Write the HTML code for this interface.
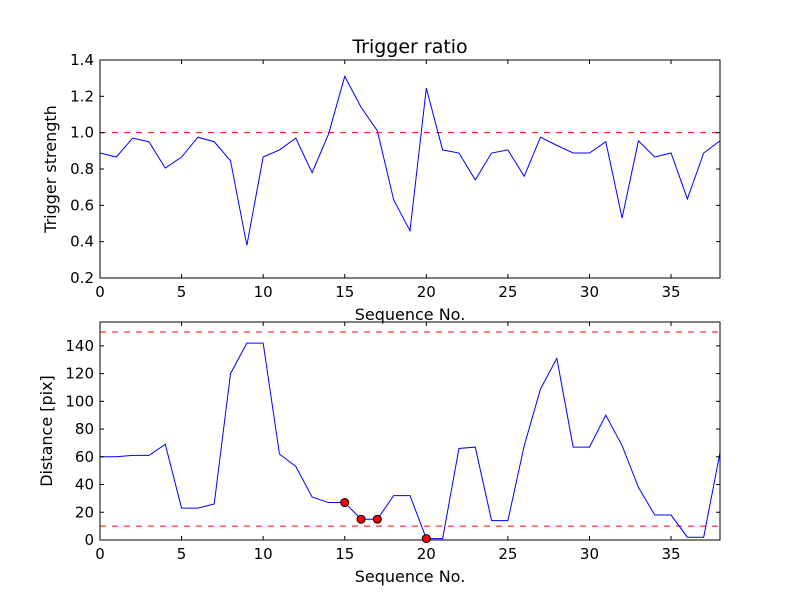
<!DOCTYPE html>
<html><head><meta charset="utf-8"><style>
body{margin:0;background:#fff}
svg text{font-family:"DejaVu Sans","Liberation Sans",sans-serif;fill:#000}
</style></head><body>
<svg id="chart" width="800" height="600" xmlns="http://www.w3.org/2000/svg">
<rect width="800" height="600" fill="#fff"/>
</svg>
<script>
const seq = [0,1,2,3,4,5,6,7,8,9,10,11,12,13,14,15,16,17,18,19,20,21,22,23,24,25,26,27,28,29,30,31,32,33,34,35,36,37,38];
const strength = [0.888,0.866,0.97,0.95,0.805,0.866,0.975,0.95,0.845,0.38,0.866,0.905,0.97,0.78,0.99,1.31,1.14,1.01,0.63,0.46,1.245,0.905,0.888,0.74,0.888,0.905,0.76,0.975,0.93,0.888,0.888,0.95,0.53,0.955,0.866,0.888,0.635,0.888,0.955];
const distance = [60,60,61,61,69,23,23,26,120,142,142,62,53,31,27,27,15,15,32,32,1,1,66,67,14,14,68,109,131,67,67,90,68,38,18,18,2,2,63];
const flagged = [15,16,17,20];
const xTicks = [0,5,10,15,20,25,30,35];
const yTicksTop = [0.2,0.4,0.6,0.8,1.0,1.2,1.4];
const yTicksBot = [0,20,40,60,80,100,120,140];
const thrTop = [1.0];
const thrBot = [10,150];

const NS="http://www.w3.org/2000/svg";
const svg=document.getElementById('chart');
function mk(t,a,p){const e=document.createElementNS(NS,t);for(const k in a)e.setAttribute(k,a[k]);(p||svg).appendChild(e);return e;}
const X0=100,X1=720;
const xs=v=>X0+(v-0)/(38-0)*(X1-X0);

function panel(name,top,bot,ymin,ymax,ticks,fmt,vals,thr,ylabel,title){
  const ys=v=>bot-(v-ymin)/(ymax-ymin)*(bot-top);
  const g=mk('g',{});
  
  
  thr.forEach(t=>{const l=mk('line',{x1:X0,x2:X1,y1:ys(t),y2:ys(t),stroke:'#ff0000','stroke-dasharray':'6,6','stroke-width':1},g);
    
    });
  const pl=mk('polyline',{points:vals.map((v,i)=>xs(seq[i])+','+ys(v)).join(' '),fill:'none',stroke:'#0000ff','stroke-width':1},g);
  
  
  const fr=mk('rect',{x:X0,y:top,width:X1-X0,height:bot-top,fill:'none',stroke:'#000','stroke-width':1},g);
  
  
  xTicks.forEach(t=>{const x=xs(t);
    mk('line',{x1:x,x2:x,y1:bot,y2:bot-4,stroke:'#000'},g);mk('line',{x1:x,x2:x,y1:top,y2:top+4,stroke:'#000'},g);
    const tx=mk('text',{x:x,y:bot+19,'text-anchor':'middle','font-size':15},g);tx.textContent=t;
    
    });
  ticks.forEach(t=>{const y=ys(t);
    mk('line',{x1:X0,x2:X0+4,y1:y,y2:y,stroke:'#000'},g);mk('line',{x1:X1,x2:X1-4,y1:y,y2:y,stroke:'#000'},g);
    const tx=mk('text',{x:X0-6,y:y+5,'text-anchor':'end','font-size':15},g);tx.textContent=fmt(t);
    
    });
  const xl=mk('text',{x:(X0+X1)/2,y:bot+42,'text-anchor':'middle','font-size':16},g);xl.textContent='Sequence No.';
  
  
  const yl=mk('text',{x:0,y:0,'text-anchor':'middle','font-size':16,transform:`translate(${name==='top'?56:52},${(top+bot)/2}) rotate(-90)`},g);yl.textContent=ylabel;
  
  
  if(title){const tt=mk('text',{x:(X0+X1)/2,y:top-7,'text-anchor':'middle','font-size':19},g);tt.textContent=title;
    
    }
  return ys;
}
panel('top',60,278,0.2,1.4,yTicksTop,t=>t.toFixed(1),strength,thrTop,'Trigger strength','Trigger ratio');
const ysb=panel('bottom',322,540,0,157.2,yTicksBot,t=>String(t),distance,thrBot,'Distance [pix]',null);
flagged.forEach(i=>{const c=mk('circle',{cx:xs(seq[i]),cy:ysb(distance[i]),r:4,fill:'#ff0000',stroke:'#000','stroke-width':1});
  
  });
</script>
</body></html>
